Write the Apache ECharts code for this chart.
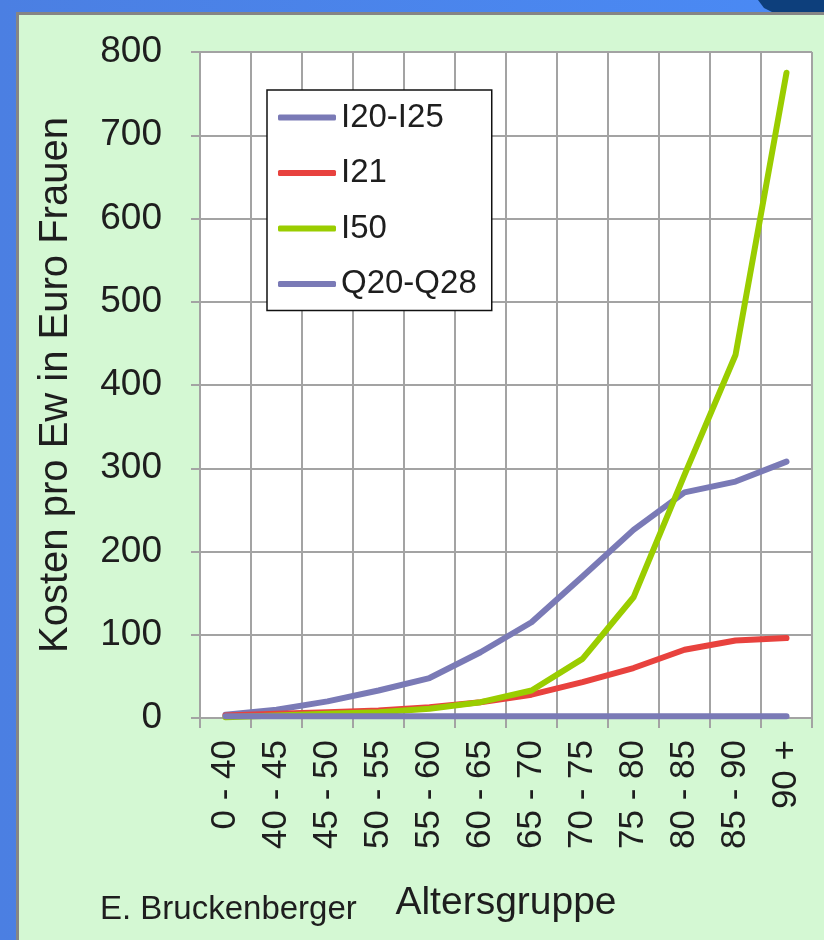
<!DOCTYPE html>
<html>
<head>
<meta charset="utf-8">
<style>
  html, body { margin: 0; padding: 0; background: #4a84ea; }
  #chart { width: 824px; height: 940px; }
</style>
<script src="https://cdn.jsdelivr.net/npm/echarts@6/dist/echarts.min.js"></script>
</head>
<body>
<div id="chart"></div>
<script>
// Age groups on the x axis
const categories = ['0 - 40', '40 - 45', '45 - 50', '50 - 55', '55 - 60', '60 - 65',
  '65 - 70', '70 - 75', '75 - 80', '80 - 85', '85 - 90', '90 +'];

// Costs per inhabitant (Euro), women, by diagnosis group
const seriesNames = ['I20-I25', 'I21', 'I50', 'Q20-Q28'];
const valsI20I25 = [4, 10, 20, 33, 48, 79, 115, 170, 226, 271, 284, 308];
const valsI21    = [3, 5, 7, 9, 13, 19, 28, 43, 60, 82, 93, 96];
const valsI50    = [1, 3, 5, 7, 11, 19, 33, 71, 145, 292, 436, 775];
const valsQ20Q28 = [2, 2, 2, 2, 2, 2, 2, 2, 2, 2, 2, 2];

const yMin = 0, yMax = 800, yStep = 100;

const colors = ['#7a7ab6', '#e8423e', '#9acd00', '#7a7ab6'];
const values = [valsI20I25, valsI21, valsI50, valsQ20Q28];

const gridColor = '#a3a3a3';
const font = 'Liberation Sans, Arial, sans-serif';

const chart = echarts.init(document.getElementById('chart'), null, { renderer: 'canvas' });

chart.setOption({
  animation: false,
  backgroundColor: 'transparent',
  graphic: [
    // blue frame behind the panel
    { type: 'rect', z: -10, silent: true, shape: { x: 0, y: 0, width: 824, height: 940 },
      style: { fill: new echarts.graphic.LinearGradient(0, 0, 1, 0, [
        { offset: 0, color: '#4b7fe2' }, { offset: 1, color: '#4a8af5' }]) } },
    { type: 'polygon', z: -9, silent: true,
      shape: { points: [[758, 0], [824, 0], [824, 14], [776, 14], [764, 8]] },
      style: { fill: '#0d3f7c' } },
    // light green panel
    { type: 'rect', z: -8, silent: true, shape: { x: 16, y: 12, width: 808, height: 928 },
      style: { fill: '#858585' } },
    { type: 'rect', z: -7, silent: true, shape: { x: 19, y: 15, width: 805, height: 925 },
      style: { fill: '#d4f8d3' } },
    { type: 'text', z: 5, left: 100, top: 893,
      style: { text: 'E. Bruckenberger', font: '33px ' + font, fill: '#1e1e1e' } }
  ],
  grid: { left: 200, right: 12, top: 52, bottom: 222, backgroundColor: '#ffffff', show: true, borderWidth: 0 },
  legend: {
    left: 267, top: 90, orient: 'vertical',
    backgroundColor: '#ffffff', borderColor: '#111111', borderWidth: 1.5,
    padding: [11, 15, 10, 11],
    itemWidth: 58, itemHeight: 6, itemGap: 22.5,
    icon: 'roundRect',
    textStyle: { fontFamily: font, fontSize: 33, color: '#1e1e1e' },
    data: seriesNames
  },
  xAxis: {
    type: 'category',
    data: categories,
    boundaryGap: true,
    name: 'Altersgruppe',
    nameLocation: 'middle',
    nameGap: 166,
    nameTextStyle: { fontFamily: font, fontSize: 39, color: '#1e1e1e' },
    axisLine: { show: true, lineStyle: { color: gridColor, width: 2 } },
    axisTick: { show: true, length: 10, lineStyle: { color: gridColor, width: 2 } },
    splitLine: { show: true, lineStyle: { color: gridColor, width: 2 } },
    axisLabel: { rotate: 90, margin: 22, fontFamily: font, fontSize: 35, color: '#1e1e1e', interval: 0 }
  },
  yAxis: {
    type: 'value',
    min: yMin, max: yMax, interval: yStep,
    name: 'Kosten pro Ew in Euro Frauen',
    nameLocation: 'middle',
    nameGap: 124,
    nameTextStyle: { fontFamily: font, fontSize: 40, color: '#1e1e1e' },
    axisLine: { show: true, lineStyle: { color: gridColor, width: 2 } },
    axisTick: { show: true, length: 9, lineStyle: { color: gridColor, width: 2 } },
    splitLine: { show: true, lineStyle: { color: gridColor, width: 2 } },
    axisLabel: { margin: 38, fontFamily: font, fontSize: 37, color: '#1e1e1e' }
  },
  series: seriesNames.map((name, i) => ({
    name: name,
    type: 'line',
    data: values[i],
    showSymbol: false,
    symbol: 'none',
    smooth: false,
    color: colors[i],
    lineStyle: { color: colors[i], width: 6, cap: 'round', join: 'round' }
  }))
});
</script>
</body>
</html>
